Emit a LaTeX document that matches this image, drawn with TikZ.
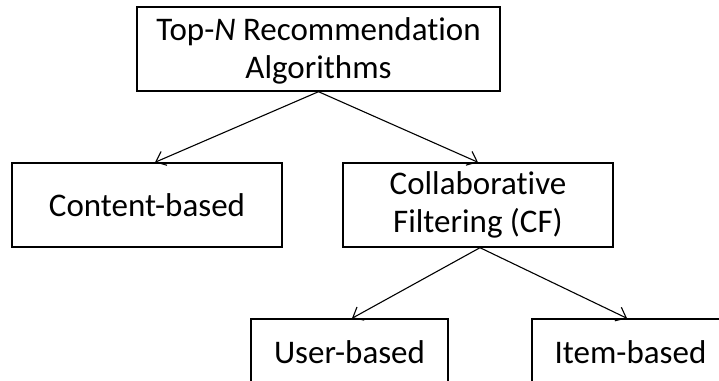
\documentclass[tikz,border=0pt]{standalone}
\usepackage{fontspec}
\setmainfont{Carlito}[Ligatures=NoCommon]
\usetikzlibrary{arrows.meta}
\tikzset{box/.style={draw,line width=1.4pt,align=center,inner sep=0pt,minimum height=84pt},
  link/.style={line width=1.1pt,-{Straight Barb[length=9pt,width=15pt]}}}

\begin{document}
\begin{tikzpicture}[x=1pt,y=1pt,font=\fontsize{33}{38}\selectfont]
\useasboundingbox (0,0) rectangle (719,380);
\clip (0,0) rectangle (719,380);
\node[box,minimum width=363pt] (algo) at (318.5,331) {\strut Top-\textit{N} Recommendation\\Algorithms};
\node[box,minimum width=270pt] (content) at (147,175) {Content-based};
\node[box,minimum width=270pt] (cf) at (478,175) {Collaborative\\Filtering (CF)};
\node[box,minimum width=197pt,minimum height=66pt] (user) at (349.5,28) {User-based};
\node[box,minimum width=197pt,minimum height=66pt] (item) at (630.5,28) {Item-based};
\draw[link] (algo.south) -- ([xshift=8pt]content.north);
\draw[link] (algo.south) -- (cf.north);
\draw[link] ([xshift=2pt]cf.south) -- ([xshift=2.5pt]user.north);
\draw[link] ([xshift=2pt]cf.south) -- ([xshift=-3.5pt]item.north);
\end{tikzpicture}
\end{document}
